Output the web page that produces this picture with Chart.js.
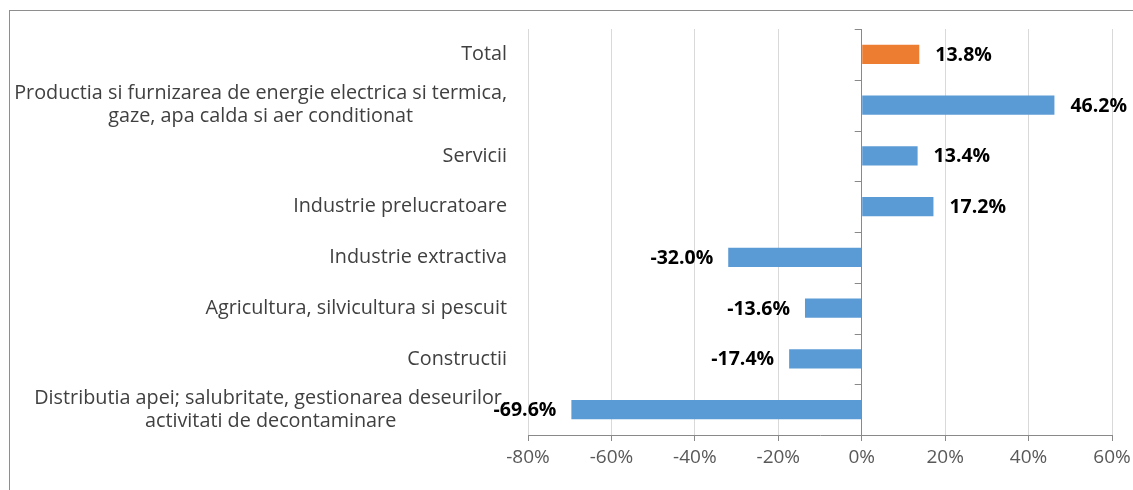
<!DOCTYPE html>
<html>
<head>
<meta charset="utf-8">
<script src="https://cdn.jsdelivr.net/npm/chart.js@4"></script>
<style>
  html, body { margin: 0; padding: 0; background: #fff; overflow: hidden; }
  #frame { position: absolute; left: 9px; top: 10px; width: 1200px; height: 600px; border: 1px solid #8e8e8e; }
  #myChart { position: absolute; left: 0; top: 0; }
</style>
</head>
<body>
<div id="frame"></div>
<canvas id="myChart" width="1133" height="490"></canvas>
<script>
// categories, top to bottom
var categories = [
    'Total',
    ['Productia si furnizarea de energie electrica si termica,', 'gaze, apa calda si aer conditionat'],
    'Servicii',
    'Industrie prelucratoare',
    'Industrie extractiva',
    'Agricultura, silvicultura si pescuit',
    'Constructii',
    ['Distributia apei; salubritate, gestionarea deseurilor,', 'activitati de decontaminare']
];
// change in %
var values = [13.8, 46.2, 13.4, 17.2, -32.0, -13.6, -17.4, -69.6];
var barColors = ['#ED7D31', '#5B9BD5', '#5B9BD5', '#5B9BD5', '#5B9BD5', '#5B9BD5', '#5B9BD5', '#5B9BD5'];
// x axis ticks
var axisMin = -80;
var axisMax = 60;
var axisStep = 20;

var fontFamily = '"Open Sans", sans-serif';
var labelFont = '19.8px ' + fontFamily;
var valueFont = 'bold 19.5px ' + fontFamily;

// draws the category names, the small ticks on the zero line and the value labels
var customLabels = {
    id: 'customLabels',
    afterDraw: function(chart) {
        var ctx = chart.ctx;
        var xs = chart.scales.x;
        var ys = chart.scales.y;
        var area = chart.chartArea;
        ctx.save();

        // category names: block right aligned, lines centered
        ctx.font = labelFont;
        ctx.fillStyle = '#404040';
        ctx.textAlign = 'center';
        ctx.textBaseline = 'middle';
        categories.forEach(function(lab, i) {
            var lines = Array.isArray(lab) ? lab : [lab];
            var w = Math.max.apply(null, lines.map(function(l) { return ctx.measureText(l).width; }));
            var cx = area.left - 21 - w / 2;
            var cy = ys.getPixelForValue(i);
            lines.forEach(function(l, j) {
                ctx.fillText(l, cx, cy + (j - (lines.length - 1) / 2) * 23);
            });
        });

        // tick marks on the zero line
        var x0 = xs.getPixelForValue(0);
        ctx.strokeStyle = '#898989';
        ctx.lineWidth = 1;
        for (var i = 0; i <= categories.length; i++) {
            var yy = Math.round(ys.getPixelForValue(i - 0.5)) + 0.5;
            ctx.beginPath();
            ctx.moveTo(x0 - 7, yy);
            ctx.lineTo(x0, yy);
            ctx.stroke();
        }

        // value labels
        ctx.font = valueFont;
        ctx.fillStyle = '#000';
        var meta = chart.getDatasetMeta(0);
        meta.data.forEach(function(bar, i) {
            var v = values[i];
            var txt = v.toFixed(1) + '%';
            if (v >= 0) {
                ctx.textAlign = 'left';
                ctx.fillText(txt, bar.x + 16, bar.y + 1);
            } else {
                ctx.textAlign = 'right';
                ctx.fillText(txt, bar.x - 15, bar.y + 1);
            }
        });
        ctx.restore();
    }
};

var ctx = document.getElementById('myChart').getContext('2d');

var myChart = new Chart(ctx, {
    type: 'bar',
    data: {
        labels: categories,
        datasets: [{
            data: values,
            backgroundColor: barColors,
            borderWidth: 0,
            barPercentage: 0.38,
            categoryPercentage: 1
        }]
    },
    options: {
        indexAxis: 'y',
        responsive: false,
        devicePixelRatio: 1,
        animation: false,
        layout: {
            padding: { left: 528, right: 21, top: 29, bottom: 0 }
        },
        plugins: {
            legend: { display: false },
            tooltip: { enabled: false }
        },
        scales: {
            x: {
                type: 'linear',
                min: axisMin,
                max: axisMax,
                ticks: {
                    stepSize: axisStep,
                    color: '#595959',
                    font: { family: fontFamily, size: 19 },
                    padding: 5,
                    callback: function(v) { return v + '%'; }
                },
                grid: {
                    color: function(c) { return c.tick && c.tick.value === 0 ? '#898989' : '#d9d9d9'; },
                    tickColor: '#898989',
                    tickLength: 6
                },
                border: { color: '#898989' },
                afterFit: function(scale) {
                    scale.height = 55;
                    // keep the end labels from pushing the plot area in
                    scale.paddingLeft = 0;
                    scale.paddingRight = 0;
                }
            },
            y: {
                display: false
            }
        }
    },
    plugins: [customLabels]
});
</script>
</body>
</html>
